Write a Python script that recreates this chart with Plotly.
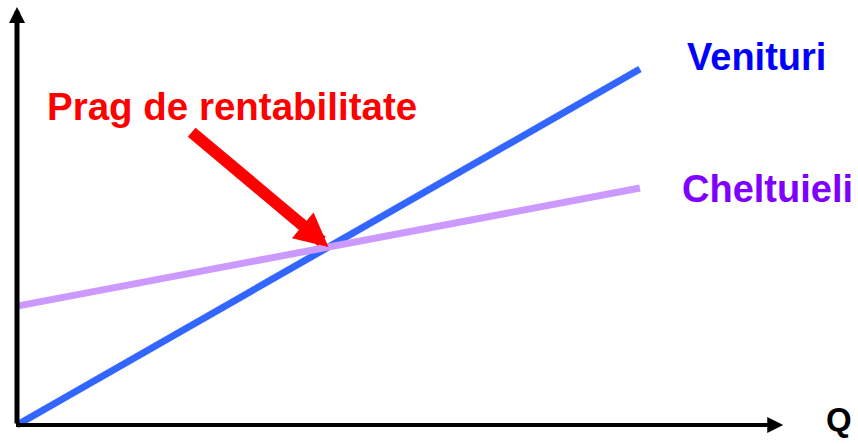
import plotly.graph_objects as go

# Break-even chart: revenue vs. costs as a function of quantity Q
quantities = [0, 100]
venituri = [0, 100]          # revenue grows from zero
cheltuieli = [33.4, 66.6]    # fixed costs + variable costs
break_even = (50, 50)        # where the two lines meet

# Axis extents (arrow tips) and the label texts
x_axis_end = 123
y_axis_end = 117.4
label_revenue = "Venituri"
label_costs = "Cheltuieli"
label_break_even = "Prag de rentabilitate"
label_q = "Q"

FONT = "Liberation Sans, Arial, sans-serif"

fig = go.Figure()
fig.add_trace(go.Scatter(x=quantities, y=venituri, mode="lines",
                         line=dict(color="#3366FF", width=7), showlegend=False,
                         hoverinfo="skip"))
fig.add_trace(go.Scatter(x=quantities, y=cheltuieli, mode="lines",
                         line=dict(color="#CC99FF", width=7), showlegend=False,
                         hoverinfo="skip"))

annotations = [
    # vertical axis with arrow
    dict(x=0, y=y_axis_end, ax=0, ay=0, xref="x", yref="y", axref="x", ayref="y",
         text="", showarrow=True, arrowhead=2, arrowsize=0.64, arrowwidth=5,
         arrowcolor="black"),
    # horizontal axis with arrow
    dict(x=x_axis_end, y=0, ax=-0.4, ay=0, xref="x", yref="y", axref="x", ayref="y",
         text="", showarrow=True, arrowhead=2, arrowsize=0.8, arrowwidth=4,
         arrowcolor="black"),
    # red arrow pointing at the break-even point
    dict(x=break_even[0], y=break_even[1], ax=27.8, ay=82.6,
         xref="x", yref="y", axref="x", ayref="y",
         text="", showarrow=True, arrowhead=2, arrowsize=0.56, arrowwidth=12,
         arrowcolor="#FF0000"),
    dict(x=107.2, y=103.4, xref="x", yref="y", xanchor="left", yanchor="middle",
         text=f"<b>{label_revenue}</b>", showarrow=False,
         font=dict(family=FONT, size=38, color="#0000FF")),
    dict(x=106.4, y=66.4, xref="x", yref="y", xanchor="left", yanchor="middle",
         text=f"<b>{label_costs}</b>", showarrow=False,
         font=dict(family=FONT, size=38, color="#8000FF")),
    dict(x=4.5, y=89.6, xref="x", yref="y", xanchor="left", yanchor="middle",
         text=f"<b>{label_break_even}</b>", showarrow=False,
         font=dict(family=FONT, size=38.5, color="#FF0000")),
    dict(x=129.6, y=1.5, xref="x", yref="y", xanchor="left", yanchor="middle",
         text=f"<b>{label_q}</b>", showarrow=False,
         font=dict(family=FONT, size=33, color="black")),
]

fig.update_layout(
    width=858, height=444,
    margin=dict(l=0, r=0, t=0, b=0),
    paper_bgcolor="white", plot_bgcolor="white",
    annotations=annotations,
    xaxis=dict(range=[-2.73, 135.0], visible=False, fixedrange=True),
    yaxis=dict(range=[-5.34, 119.4], visible=False, fixedrange=True),
)

fig.write_html("out.html", config={"displayModeBar": False})
